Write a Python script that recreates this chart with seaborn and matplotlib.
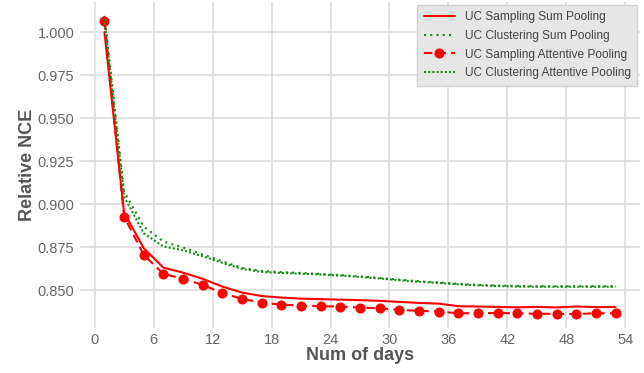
import matplotlib
matplotlib.use("Agg")
import matplotlib.pyplot as plt
import seaborn as sns
import pandas as pd

days = [1, 3, 5, 7, 9, 11, 13, 15, 17, 19, 21, 23, 25, 27, 29, 31, 33, 35,
        37, 39, 41, 43, 45, 47, 49, 51, 53]

sampling_sum = [1.0000, 0.8951, 0.8744, 0.8631, 0.8602, 0.8566, 0.8521, 0.8486,
                0.8466, 0.8457, 0.8451, 0.8448, 0.8445, 0.8442, 0.8438, 0.8432,
                0.8426, 0.8422, 0.8407, 0.8405, 0.8403, 0.8400, 0.8403, 0.8400,
                0.8405, 0.8402, 0.8402]

clustering_sum = [1.0095, 0.9073, 0.8870, 0.8783, 0.8748, 0.8708, 0.8668, 0.8630,
                  0.8612, 0.8605, 0.8600, 0.8594, 0.8588, 0.8580, 0.8571, 0.8561,
                  0.8552, 0.8545, 0.8537, 0.8531, 0.8527, 0.8525, 0.8523, 0.8523,
                  0.8523, 0.8523, 0.8523]

sampling_att = [1.0062, 0.8928, 0.8705, 0.8595, 0.8566, 0.8531, 0.8483, 0.8449,
                0.8428, 0.8416, 0.8411, 0.8407, 0.8405, 0.8399, 0.8395, 0.8385,
                0.8380, 0.8376, 0.8366, 0.8366, 0.8368, 0.8365, 0.8363, 0.8363,
                0.8361, 0.8366, 0.8366]

clustering_att = [1.0080, 0.9044, 0.8831, 0.8754, 0.8732, 0.8697, 0.8659, 0.8624,
                  0.8606, 0.8600, 0.8596, 0.8591, 0.8585, 0.8577, 0.8568, 0.8558,
                  0.8549, 0.8542, 0.8534, 0.8528, 0.8524, 0.8521, 0.8520, 0.8520,
                  0.8520, 0.8520, 0.8520]

labels = ["UC Sampling Sum Pooling", "UC Clustering Sum Pooling",
          "UC Sampling Attentive Pooling", "UC Clustering Attentive Pooling"]
xticks = [0, 6, 12, 18, 24, 30, 36, 42, 48, 54]
yticks = [0.850, 0.875, 0.900, 0.925, 0.950, 0.975, 1.000]

sns.set_theme(style="whitegrid")
plt.rcParams['font.family'] = ['Liberation Sans', 'DejaVu Sans']

fig = plt.figure(figsize=(6.44, 3.73), dpi=100)
ax = fig.add_axes([0.124, 0.121, 0.870, 0.874])

df = pd.DataFrame({"day": days, "ss": sampling_sum, "cs": clustering_sum,
                   "sa": sampling_att, "ca": clustering_att})

sns.lineplot(data=df, x="day", y="ss", ax=ax, color="#ff0000", lw=1.5,
             linestyle="-", label=labels[0])
sns.lineplot(data=df, x="day", y="cs", ax=ax, color="#1a8a1a", lw=1.5,
             linestyle=(0, (1, 2)), label=labels[1])
sns.lineplot(data=df, x="day", y="sa", ax=ax, color="#ff0000", lw=1.5,
             linestyle=(0, (4, 2.5)), marker="o", markersize=6.5,
             markeredgecolor="#ff0000", label=labels[2])
sns.lineplot(data=df, x="day", y="ca", ax=ax, color="#1a8a1a", lw=1.5,
             linestyle=(0, (1, 1)), label=labels[3])

ax.set_xlim(-1.5, 55.5)
ax.set_ylim(0.8281, 1.0176)
ax.set_xticks(xticks)
ax.set_yticks(yticks)
ax.set_yticklabels([f"{v:.3f}" for v in yticks])
ax.tick_params(axis="both", labelsize=10.5, labelcolor="#666666", length=0, pad=4)
ax.grid(True, color="#dddddd", lw=1.2)
for s in ax.spines.values():
    s.set_visible(False)

ax.set_xlabel("Num of days", fontsize=13, fontweight="bold", color="#555555", labelpad=0)
ax.set_ylabel("Relative NCE", fontsize=13, fontweight="bold", color="#555555", labelpad=1)

leg = ax.legend(loc="upper right", fontsize=8.6, frameon=True, fancybox=False,
                facecolor="#e6e6e6", edgecolor="#d0d0d0", framealpha=1,
                borderpad=0.55, labelspacing=0.55, handlelength=2.6,
                handletextpad=0.8, borderaxespad=0.25)
for t in leg.get_texts():
    t.set_color("#444444")

fig.savefig("out.png", dpi=100)
